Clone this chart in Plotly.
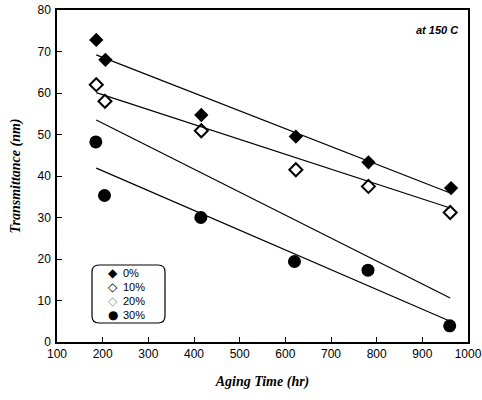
import plotly.graph_objects as go

# Data
time_0 = [186, 206, 416, 623, 782, 963]
trans_0 = [72.8, 68.0, 54.7, 49.5, 43.3, 37.1]
time_10 = [186, 205, 416, 623, 782, 961]
trans_10 = [62.0, 58.0, 50.9, 41.5, 37.5, 31.2]
time_30 = [185, 204, 415, 620, 781, 960]
trans_30 = [48.2, 35.3, 30.0, 19.4, 17.3, 3.9]

# Fitted lines (endpoints)
fit_x = [186, 961]
fit_0 = [69.2, 35.9]
fit_10 = [60.1, 32.3]
fit_20 = [53.5, 10.6]
fit_30 = [41.9, 5.0]

series_names = ["0%", "10%", "20%", "30%"]
legend_glyphs = ["◆", "◇", "◇", "●"]
legend_colors = ["black", "black", "#a0a0a0", "black"]

x_ticks = [100, 200, 300, 400, 500, 600, 700, 800, 900, 1000]
y_ticks = [0, 10, 20, 30, 40, 50, 60, 70, 80]

W, H = 482, 400
L, R, T, B = 57, 14, 10, 58
def px(xp):
    return (xp - L) / (W - L - R)
def py(yp):
    return (H - B - yp) / (H - T - B)

fig = go.Figure()
for fy in [fit_0, fit_10, fit_20, fit_30]:
    fig.add_trace(go.Scatter(x=fit_x, y=fy, mode="lines",
                             line=dict(color="black", width=1.2), showlegend=False,
                             hoverinfo="skip"))

fig.add_trace(go.Scatter(x=time_0, y=trans_0, mode="markers", name=series_names[0],
                         marker=dict(symbol="diamond", size=11, color="black")))
fig.add_trace(go.Scatter(x=time_10, y=trans_10, mode="markers", name=series_names[1],
                         marker=dict(symbol="diamond-open", size=10, color="black",
                                     line=dict(width=2))))
fig.add_trace(go.Scatter(x=time_30, y=trans_30, mode="markers", name=series_names[3],
                         marker=dict(symbol="circle", size=13, color="black")))

# rounded legend border
x0, x1, y0, y1, r = 92, 165, 265, 323, 7
rx = r / (W - L - R)
ry = r / (H - T - B)
a, b, c, d = px(x0), px(x1), py(y1), py(y0)
path = (f"M {a+rx},{c} L {b-rx},{c} Q {b},{c} {b},{c+ry} L {b},{d-ry} Q {b},{d} {b-rx},{d} "
        f"L {a+rx},{d} Q {a},{d} {a},{d-ry} L {a},{c+ry} Q {a},{c} {a+rx},{c} Z")
fig.add_shape(type="path", path=path, xref="paper", yref="paper",
              line=dict(color="black", width=1.2))

# custom compact legend
for i, (nm, g, col) in enumerate(zip(series_names, legend_glyphs, legend_colors)):
    yy = py(273 + 14 * i)
    fig.add_annotation(x=px(113), y=yy, xref="paper", yref="paper", text=g,
                       showarrow=False, xanchor="center", yanchor="middle",
                       font=dict(family="DejaVu Sans", size=12, color=col))
    fig.add_annotation(x=px(121), y=yy, xref="paper", yref="paper", text=nm,
                       showarrow=False, xanchor="left", yanchor="middle",
                       font=dict(family="Liberation Sans", size=11, color="black"))

fig.add_annotation(x=px(461), y=py(30), xref="paper", yref="paper", text="<b><i>at 150 C</i></b>",
                   showarrow=False, xanchor="right", yanchor="middle",
                   font=dict(family="Liberation Sans", size=11, color="black"))

axis_common = dict(showgrid=False, zeroline=False, showline=True, linecolor="black",
                   linewidth=1.5, mirror=True, ticks="inside", ticklen=5, automargin=False,
                   tickcolor="black", tickfont=dict(family="Liberation Sans", size=12, color="black"))
fig.update_xaxes(range=[100, 1000], tickvals=x_ticks, **axis_common,
                 title=dict(text="<b><i>Aging Time (hr)</i></b>",
                            font=dict(family="Liberation Serif", size=14, color="black"),
                            standoff=16))
fig.update_yaxes(range=[0, 80], tickvals=y_ticks, **axis_common, ticklabelstandoff=2,
                 title=dict(text="<b><i>Transmittance (nm)</i></b>",
                            font=dict(family="Liberation Serif", size=14, color="black"),
                            standoff=14))

fig.update_layout(width=W, height=H, margin=dict(l=L, r=R, t=T, b=B),
                  plot_bgcolor="white", paper_bgcolor="white", showlegend=False)

fig.write_html("out.html", config={"displayModeBar": False},
               post_script="document.body.style.margin='0';")
